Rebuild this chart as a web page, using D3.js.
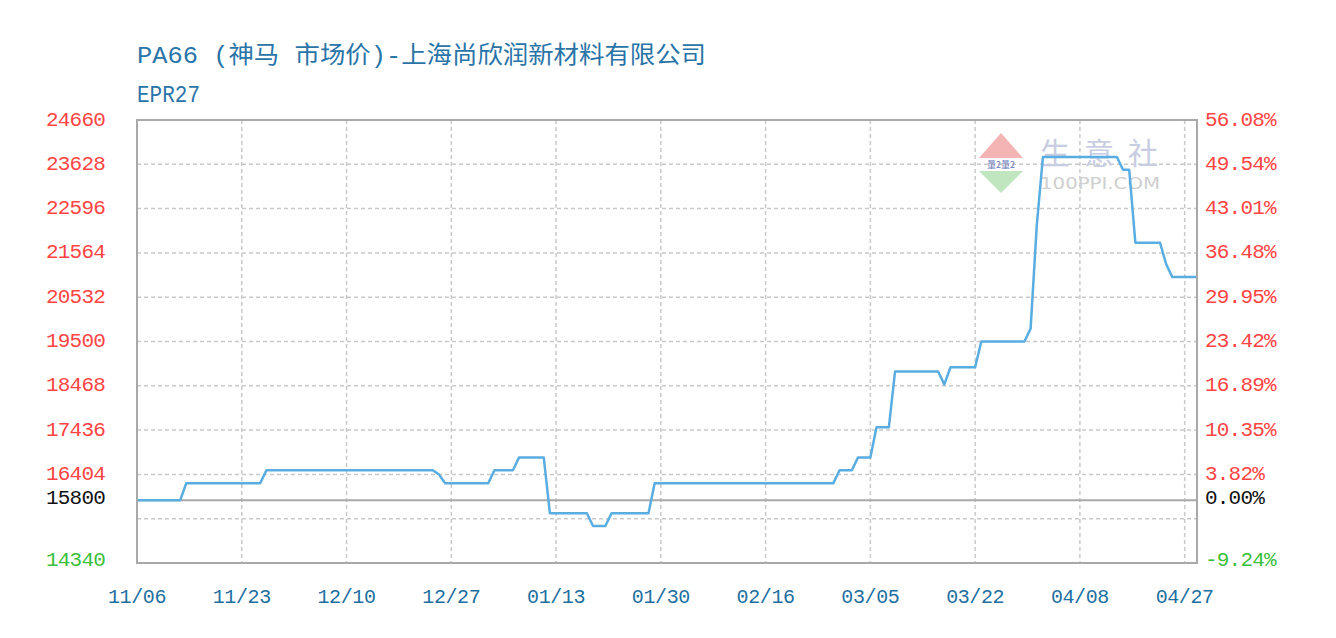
<!DOCTYPE html>
<html>
<head>
<meta charset="utf-8">
<script src="https://cdn.jsdelivr.net/npm/d3@7"></script>
<style>
  html, body { margin: 0; padding: 0; background: #fff; }
  svg { display: block; }
</style>
</head>
<body>
<svg id="chart" width="1336" height="638"></svg>
<script>
// ---------------- DATA ----------------
const titleText = "PA66 (神马 市场价)-上海尚欣润新材料有限公司";
const subtitleText = "EPR27";
const baseValue = 15800;

// x tick labels (one every 17 data points)
const xTickLabels = ["11/06","11/23","12/10","12/27","01/13","01/30","02/16","03/05","03/22","04/08","04/27"];
const xTickEvery = 17;

// left axis tick values (gridlines) and labels
const yTickValues = [14340, 15372, 16404, 17436, 18468, 19500, 20532, 21564, 22596, 23628, 24660];
const yLabelValues = [14340, 15800, 16404, 17436, 18468, 19500, 20532, 21564, 22596, 23628, 24660];
const rightLabels = ["-9.24%", "0.00%", "3.82%", "10.35%", "16.89%", "23.42%", "29.95%", "36.48%", "43.01%", "49.54%", "56.08%"];

// price series (one value per data point)
const prices = [
  15800,15800,15800,15800,15800,15800,15800,15800,
  16200,16200,16200,16200,16200,16200,16200,16200,16200,16200,16200,16200,16200,
  16500,16500,16500,16500,16500,16500,16500,16500,16500,16500,16500,16500,16500,16500,
  16500,16500,16500,16500,16500,16500,16500,16500,16500,16500,16500,16500,16500,16500,
  16400,
  16200,16200,16200,16200,16200,16200,16200,16200,
  16500,16500,16500,16500,
  16800,16800,16800,16800,16800,
  15500,15500,15500,15500,15500,15500,15500,
  15200,15200,15200,
  15500,15500,15500,15500,15500,15500,15500,
  16200,16200,16200,16200,16200,16200,16200,16200,16200,16200,
  16200,16200,16200,16200,16200,16200,16200,16200,16200,16200,
  16200,16200,16200,16200,16200,16200,16200,16200,16200,16200,
  16500,16500,16500,
  16800,16800,16800,
  17500,17500,17500,
  18800,18800,18800,18800,18800,18800,18800,18800,
  18500,
  18900,18900,18900,18900,18900,
  19500,19500,19500,19500,19500,19500,19500,19500,
  19800,
  22200,
  23800,23800,23800,23800,23800,23800,23800,23800,23800,23800,23800,23800,23800,
  23500,23500,
  21800,21800,21800,21800,21800,
  21300,
  21000,21000,21000,21000,21000
];

// ---------------- LAYOUT ----------------
const plot = { left: 137, right: 1197, top: 120, bottom: 563 };
const svg = d3.select("#chart");

const x = d3.scaleLinear().domain([0, prices.length - 1]).range([plot.left, plot.right]);
const y = d3.scaleLinear().domain([yTickValues[0], yTickValues[yTickValues.length - 1]]).range([plot.bottom, plot.top]);

const monoFont = "'Liberation Mono', 'DejaVu Sans Mono', monospace";
const gridColor = "#c9c9c9";

// ---------------- TITLE ----------------
svg.append("text")
  .attr("x", 137).attr("y", 63)
  .attr("fill", "#2a74a8")
  .attr("font-family", "'Liberation Mono', 'Noto Sans CJK SC', monospace")
  .attr("font-size", 24)
  .attr("textLength", 569).attr("lengthAdjust", "spacingAndGlyphs")
  .text(titleText);

svg.append("text")
  .attr("x", 137).attr("y", 102)
  .attr("fill", "#2a74a8")
  .attr("font-family", monoFont)
  .attr("font-size", 24)
  .attr("textLength", 63).attr("lengthAdjust", "spacingAndGlyphs")
  .text(subtitleText);

// ---------------- GRID ----------------
const grid = svg.append("g");
yTickValues.slice(1, -1).forEach(v => {
  grid.append("line")
    .attr("x1", plot.left).attr("x2", plot.right)
    .attr("y1", y(v)).attr("y2", y(v))
    .attr("stroke", gridColor).attr("stroke-width", 1.5)
    .attr("stroke-dasharray", "4,3");
});
const xTickIdx = xTickLabels.map((d, i) => i * xTickEvery);
xTickIdx.slice(1).forEach(i => {
  grid.append("line")
    .attr("x1", x(i)).attr("x2", x(i))
    .attr("y1", plot.top).attr("y2", plot.bottom)
    .attr("stroke", gridColor).attr("stroke-width", 1.5)
    .attr("stroke-dasharray", "4,3");
});

// ---------------- WATERMARK ----------------
const wm = svg.append("g");
wm.append("polygon").attr("points", "1001,133 979,158 1023,158").attr("fill", "#f4b4b4");
wm.append("polygon").attr("points", "979,171 1023,171 1001,193").attr("fill", "#bfe6bf");
wm.append("text").attr("x", 1001).attr("y", 168).attr("text-anchor", "middle")
  .attr("font-family", "'Noto Sans CJK SC', sans-serif").attr("font-size", 9)
  .attr("fill", "#6a78b8").text("量2量2");
wm.append("text").attr("x", 1040).attr("y", 164)
  .attr("font-family", "'Noto Sans CJK SC', sans-serif").attr("font-size", 30)
  .attr("fill", "#c8cde2").attr("textLength", 118).attr("lengthAdjust", "spacing")
  .text("生意社");
wm.append("text").attr("x", 1040).attr("y", 189)
  .attr("font-family", "'DejaVu Sans', sans-serif").attr("font-size", 16)
  .attr("fill", "#cfcfcf").attr("textLength", 120).attr("lengthAdjust", "spacingAndGlyphs")
  .text("100PPI.COM");

// ---------------- BASELINE ----------------
svg.append("line")
  .attr("x1", plot.left).attr("x2", plot.right)
  .attr("y1", y(baseValue)).attr("y2", y(baseValue))
  .attr("stroke", "#a8a8a8").attr("stroke-width", 2);

// ---------------- LINE ----------------
const line = d3.line().x((d, i) => x(i)).y(d => y(d));
svg.append("path")
  .datum(prices)
  .attr("d", line)
  .attr("fill", "none")
  .attr("stroke", "#5aade0")
  .attr("stroke-width", 2.5)
  .attr("stroke-linejoin", "round");

// ---------------- BORDER ----------------
svg.append("rect")
  .attr("x", plot.left).attr("y", plot.top)
  .attr("width", plot.right - plot.left).attr("height", plot.bottom - plot.top)
  .attr("fill", "none").attr("stroke", "#a9a9a9").attr("stroke-width", 2);

// ---------------- AXES LABELS ----------------
function labelColor(v) {
  if (v > baseValue) return "#ff4444";
  if (v < baseValue) return "#3cbf3c";
  return "#111111";
}
function labelDy(v) {
  if (v === baseValue) return -2;
  if (v === yTickValues[0]) return -3;
  return 0;
}
const leftAxis = svg.append("g");
yLabelValues.forEach(v => {
  leftAxis.append("text")
    .attr("x", 105).attr("y", y(v) + labelDy(v))
    .attr("text-anchor", "end").attr("dominant-baseline", "central")
    .attr("font-family", monoFont).attr("font-size", 21).attr("letter-spacing", -0.8)
    .attr("fill", labelColor(v))
    .text(v);
});
const rightAxis = svg.append("g");
yLabelValues.forEach((v, i) => {
  rightAxis.append("text")
    .attr("x", 1205).attr("y", y(v) + labelDy(v))
    .attr("text-anchor", "start").attr("dominant-baseline", "central")
    .attr("font-family", monoFont).attr("font-size", 21).attr("letter-spacing", -0.8)
    .attr("fill", labelColor(v))
    .text(rightLabels[i]);
});
const bottomAxis = svg.append("g");
xTickLabels.forEach((lab, i) => {
  bottomAxis.append("text")
    .attr("x", x(xTickIdx[i])).attr("y", 603)
    .attr("text-anchor", "middle")
    .attr("font-family", monoFont).attr("font-size", 20).attr("letter-spacing", -0.4)
    .attr("fill", "#226f9f")
    .text(lab);
});
</script>
</body>
</html>
